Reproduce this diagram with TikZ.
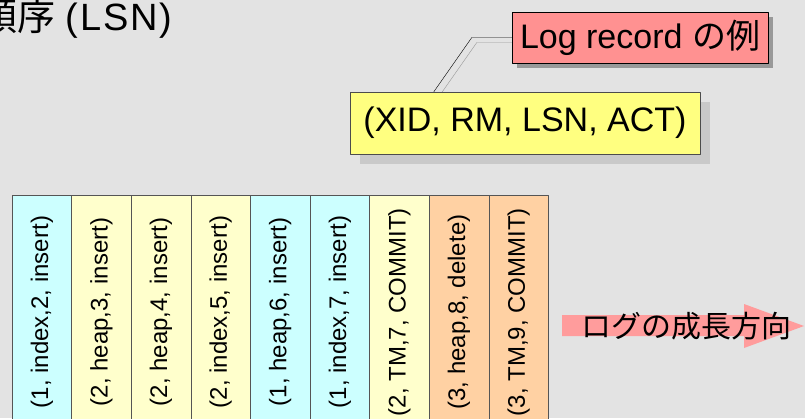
\documentclass[tikz,border=0pt]{standalone}
\usepackage{fontspec}
\setmainfont{Liberation Sans}
\newfontfamily\jp{Noto Sans CJK JP}
\usetikzlibrary{shadows,backgrounds}

\definecolor{canvasgray}{HTML}{E3E3E3}
\definecolor{recpink}{HTML}{FF9191}
\definecolor{recyellow}{HTML}{FFFF80}
\definecolor{loga}{HTML}{CCFFFF}
\definecolor{logb}{HTML}{FFFFCC}
\definecolor{logc}{HTML}{FFD1A3}
\definecolor{edgegray}{HTML}{555555}

\begin{document}
\begin{tikzpicture}[
  x = 1pt,
  y = -1pt,
  line join=round,
  rec/.style={draw=black, rectangle, inner sep=0pt, text=black},
  logcell/.style={draw=edgegray, rotate=90, minimum width=234pt,
    minimum height=59.6pt, inner sep=0pt,
    font=\fontsize{24}{24}\selectfont}
]
  \def\CW{59.6} \def\CY{312}

  \useasboundingbox (0,0) rectangle (805,418);
  \clip (0,0) rectangle (805,418);

  % タイトル
  \node[anchor=base west, inner sep=0pt, font=\fontsize{38}{38}\selectfont]
    (title) at (-21,30) {{\jp 順序} {\addfontfeatures{LetterSpace=5}(LSN)}};

  % 例
  \node[rec, fill=recpink, minimum width=256pt, minimum height=51pt,
        font=\fontsize{34}{34}\selectfont,
        drop shadow={shadow xshift=5pt, shadow yshift=-5pt,
                     fill=black!40, opacity=1}]
    (logrec) at (640,37.5) {Log record {\jp の例}};
  \node[rec, draw=black!70, fill=recyellow, minimum width=350pt, minimum height=62pt,
        font=\fontsize{34}{34}\selectfont,
        drop shadow={shadow xshift=10pt, shadow yshift=-10pt,
                     fill=black!21, opacity=1}]
    (tuple) at (525,123) {(XID, RM, LSN, ACT)};

  \begin{pgfonlayer}{background}
    \fill[canvasgray] (0,0) rectangle (805,418);
    % 引き出し線
    \draw[black!40, transform canvas={xshift=5pt, yshift=-5pt}]
      (logrec.west) -- ++(-40,0) -- ([xshift=84pt]tuple.north west);
    \draw[black]
      (logrec.west) -- ++(-40,0) coordinate (knee)
      -- ([xshift=84pt]tuple.north west);
  \end{pgfonlayer}

  % ログ
  \node[logcell, fill=loga] (r1) at ({12+0.5*\CW},\CY) {(1, index,2, insert)};
  \node[logcell, fill=logb] (r2) at ({12+1.5*\CW},\CY) {(2, heap,3, insert)};
  \node[logcell, fill=logb] (r3) at ({12+2.5*\CW},\CY) {(2, heap,4, insert)};
  \node[logcell, fill=logb] (r4) at ({12+3.5*\CW},\CY) {(2, index,5, insert)};
  \node[logcell, fill=loga] (r5) at ({12+4.5*\CW},\CY) {(1, heap,6, insert)};
  \node[logcell, fill=loga] (r6) at ({12+5.5*\CW},\CY) {(1, index,7, insert)};
  \node[logcell, fill=logb] (r7) at ({12+6.5*\CW},\CY) {(2, TM,7, COMMIT)};
  \node[logcell, fill=logc] (r8) at ({12+7.5*\CW},\CY) {(3, heap,8, delete)};
  \node[logcell, fill=logc] (r9) at ({12+8.5*\CW},\CY) {(3, TM,9, COMMIT)};

  % 成長方向
  \fill[recpink!90!white]
    (562,315) -- (744,315) -- (744,304) -- (804,326)
    -- (744,348) -- (744,336) -- (562,336) -- cycle;
  \node[font=\fontsize{30}{30}\selectfont\jp, inner sep=0pt]
    (growth) at (686,326) {ログの成長方向};
\end{tikzpicture}
\end{document}
